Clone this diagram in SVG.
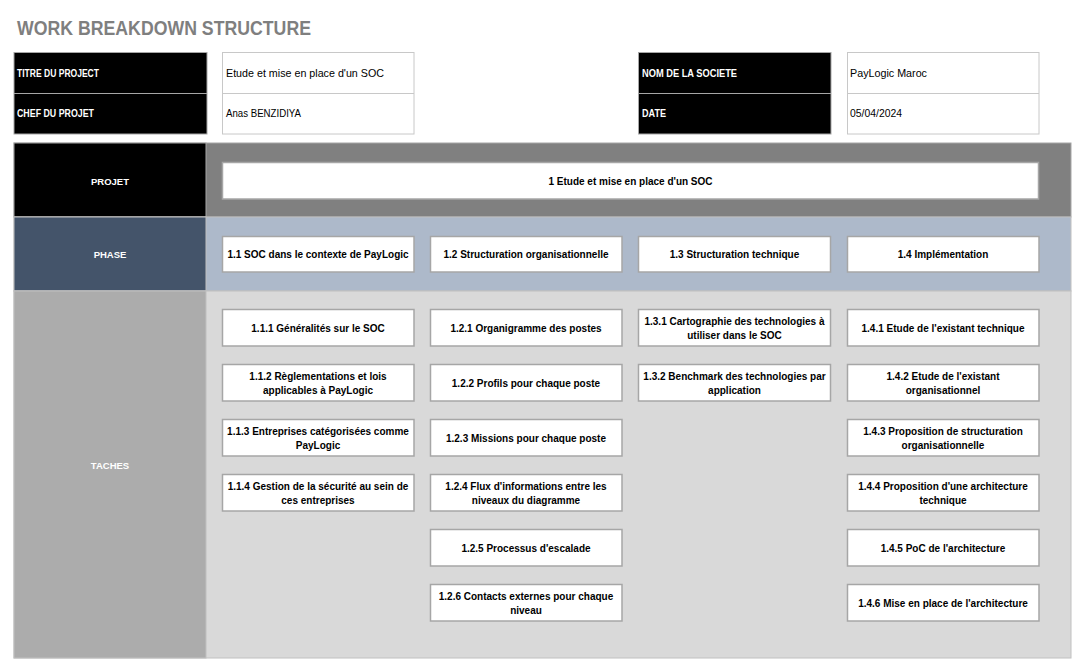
<svg xmlns="http://www.w3.org/2000/svg" width="1083" height="665" viewBox="0 0 1083 665">
<style>
.title{font-family:"Liberation Sans",Arial,sans-serif;font-weight:bold;font-size:20px;fill:#7f7f7f}
.hl{font-family:"Liberation Sans",Arial,sans-serif;font-weight:bold;font-size:10px;fill:#ffffff}
.hv{font-family:"Liberation Sans",Arial,sans-serif;font-size:10.5px;fill:#000000}
.lab{font-family:"Liberation Sans",Arial,sans-serif;font-weight:bold;font-size:9.5px;fill:#ffffff;text-anchor:middle}
.t{font-family:"Liberation Sans",Arial,sans-serif;font-weight:bold;font-size:10px;fill:#000000;text-anchor:middle}
.blk{fill:#000000;stroke:#a6a6a6;stroke-width:1}
.wc{fill:#ffffff;stroke:#c8c8c8;stroke-width:1}
.box{fill:#ffffff;stroke:#a6a6a6;stroke-width:1.5}
</style>
<rect width="1083" height="665" fill="#ffffff"/>
<text class="title" x="17" y="35" textLength="294" lengthAdjust="spacingAndGlyphs">WORK BREAKDOWN STRUCTURE</text>

<g id="header-left">
<rect class="blk" x="14" y="52.5" width="193" height="81.5"/>
<line x1="14" y1="93.5" x2="207" y2="93.5" stroke="#a6a6a6"/>
<text class="hl" x="17" y="77" textLength="82" lengthAdjust="spacingAndGlyphs">TITRE DU PROJECT</text>
<text class="hl" x="17" y="117" textLength="77" lengthAdjust="spacingAndGlyphs">CHEF DU PROJET</text>
<rect class="wc" x="222.5" y="52.5" width="191.5" height="81.5"/>
<line x1="222.5" y1="93.5" x2="414" y2="93.5" stroke="#c8c8c8"/>
<text class="hv" x="226" y="77" textLength="158" lengthAdjust="spacingAndGlyphs">Etude et mise en place d'un SOC</text>
<text class="hv" x="226" y="117" textLength="75" lengthAdjust="spacingAndGlyphs">Anas BENZIDIYA</text>
</g>
<g id="header-right">
<rect class="blk" x="638.5" y="52.5" width="192.5" height="81.5"/>
<line x1="638.5" y1="93.5" x2="831" y2="93.5" stroke="#a6a6a6"/>
<text class="hl" x="642" y="77" textLength="95" lengthAdjust="spacingAndGlyphs">NOM DE LA SOCIETE</text>
<text class="hl" x="642" y="117" textLength="24" lengthAdjust="spacingAndGlyphs">DATE</text>
<rect class="wc" x="847.5" y="52.5" width="191.5" height="81.5"/>
<line x1="847.5" y1="93.5" x2="1039" y2="93.5" stroke="#c8c8c8"/>
<text class="hv" x="850" y="77" textLength="77" lengthAdjust="spacingAndGlyphs">PayLogic Maroc</text>
<text class="hv" x="850" y="117" textLength="52" lengthAdjust="spacingAndGlyphs">05/04/2024</text>
</g>

<g id="bands">
<rect x="14" y="143" width="1057" height="74" fill="#808080" stroke="#a6a6a6"/>
<rect x="14" y="143" width="192" height="74" fill="#000000" stroke="#a6a6a6"/>
<rect x="14" y="217" width="1057" height="74" fill="#adb9ca" stroke="#c0c0c0"/>
<rect x="14" y="217" width="192" height="74" fill="#44546a" stroke="#c0c0c0"/>
<rect x="14" y="291" width="1057" height="367" fill="#d9d9d9" stroke="#c0c0c0"/>
<rect x="14" y="291" width="192" height="367" fill="#acacac" stroke="#c0c0c0"/>
<text class="lab" x="110" y="185">PROJET</text>
<text class="lab" x="110" y="258">PHASE</text>
<text class="lab" x="110" y="469">TACHES</text>
</g>

<g id="projet">
<rect class="box" x="222.5" y="162.5" width="816" height="36.5"/>
<text class="t" x="630.5" y="185">1 Etude et mise en place d'un SOC</text>
</g>

<g id="phase-1-1"><rect class="box" x="222.5" y="236.5" width="191.5" height="35.5"/><text class="t" x="318" y="258">1.1 SOC dans le contexte de PayLogic</text></g>
<g id="phase-1-2"><rect class="box" x="430.5" y="236.5" width="191.5" height="35.5"/><text class="t" x="526" y="258">1.2 Structuration organisationnelle</text></g>
<g id="phase-1-3"><rect class="box" x="638.5" y="236.5" width="192" height="35.5"/><text class="t" x="734.5" y="258">1.3 Structuration technique</text></g>
<g id="phase-1-4"><rect class="box" x="847.5" y="236.5" width="191.5" height="35.5"/><text class="t" x="943" y="258">1.4 Implémentation</text></g>

<g id="task-1-1-1"><rect class="box" x="222.5" y="309.5" width="191.5" height="36.5"/><text class="t" x="318" y="331.5">1.1.1 Généralités sur le SOC</text></g>
<g id="task-1-1-2"><rect class="box" x="222.5" y="364.5" width="191.5" height="36.5"/><text class="t" x="318" y="379.5">1.1.2 Règlementations et lois</text><text class="t" x="318" y="393.5">applicables à PayLogic</text></g>
<g id="task-1-1-3"><rect class="box" x="222.5" y="419.5" width="191.5" height="36.5"/><text class="t" x="318" y="434.5">1.1.3 Entreprises catégorisées comme</text><text class="t" x="318" y="448.5">PayLogic</text></g>
<g id="task-1-1-4"><rect class="box" x="222.5" y="474.5" width="191.5" height="36.5"/><text class="t" x="318" y="489.5">1.1.4 Gestion de la sécurité au sein de</text><text class="t" x="318" y="503.5">ces entreprises</text></g>

<g id="task-1-2-1"><rect class="box" x="430.5" y="309.5" width="191.5" height="36.5"/><text class="t" x="526" y="331.5">1.2.1 Organigramme des postes</text></g>
<g id="task-1-2-2"><rect class="box" x="430.5" y="364.5" width="191.5" height="36.5"/><text class="t" x="526" y="386.5">1.2.2 Profils pour chaque poste</text></g>
<g id="task-1-2-3"><rect class="box" x="430.5" y="419.5" width="191.5" height="36.5"/><text class="t" x="526" y="441.5">1.2.3 Missions pour chaque poste</text></g>
<g id="task-1-2-4"><rect class="box" x="430.5" y="474.5" width="191.5" height="36.5"/><text class="t" x="526" y="489.5">1.2.4 Flux d'informations entre les</text><text class="t" x="526" y="503.5">niveaux du diagramme</text></g>
<g id="task-1-2-5"><rect class="box" x="430.5" y="529.5" width="191.5" height="36.5"/><text class="t" x="526" y="551.5">1.2.5 Processus d'escalade</text></g>
<g id="task-1-2-6"><rect class="box" x="430.5" y="584.5" width="191.5" height="36.5"/><text class="t" x="526" y="599.5">1.2.6 Contacts externes pour chaque</text><text class="t" x="526" y="613.5">niveau</text></g>

<g id="task-1-3-1"><rect class="box" x="638.5" y="309.5" width="192" height="36.5"/><text class="t" x="734.5" y="324.5">1.3.1 Cartographie des technologies à</text><text class="t" x="734.5" y="338.5">utiliser dans le SOC</text></g>
<g id="task-1-3-2"><rect class="box" x="638.5" y="364.5" width="192" height="36.5"/><text class="t" x="734.5" y="379.5">1.3.2 Benchmark des technologies par</text><text class="t" x="734.5" y="393.5">application</text></g>

<g id="task-1-4-1"><rect class="box" x="847.5" y="309.5" width="191.5" height="36.5"/><text class="t" x="943" y="331.5">1.4.1 Etude de l'existant technique</text></g>
<g id="task-1-4-2"><rect class="box" x="847.5" y="364.5" width="191.5" height="36.5"/><text class="t" x="943" y="379.5">1.4.2 Etude de l'existant</text><text class="t" x="943" y="393.5">organisationnel</text></g>
<g id="task-1-4-3"><rect class="box" x="847.5" y="419.5" width="191.5" height="36.5"/><text class="t" x="943" y="434.5">1.4.3 Proposition de structuration</text><text class="t" x="943" y="448.5">organisationnelle</text></g>
<g id="task-1-4-4"><rect class="box" x="847.5" y="474.5" width="191.5" height="36.5"/><text class="t" x="943" y="489.5">1.4.4 Proposition d'une architecture</text><text class="t" x="943" y="503.5">technique</text></g>
<g id="task-1-4-5"><rect class="box" x="847.5" y="529.5" width="191.5" height="36.5"/><text class="t" x="943" y="551.5">1.4.5 PoC de l'architecture</text></g>
<g id="task-1-4-6"><rect class="box" x="847.5" y="584.5" width="191.5" height="36.5"/><text class="t" x="943" y="606.5">1.4.6 Mise en place de l'architecture</text></g>

<g id="connectors"/>
</svg>
